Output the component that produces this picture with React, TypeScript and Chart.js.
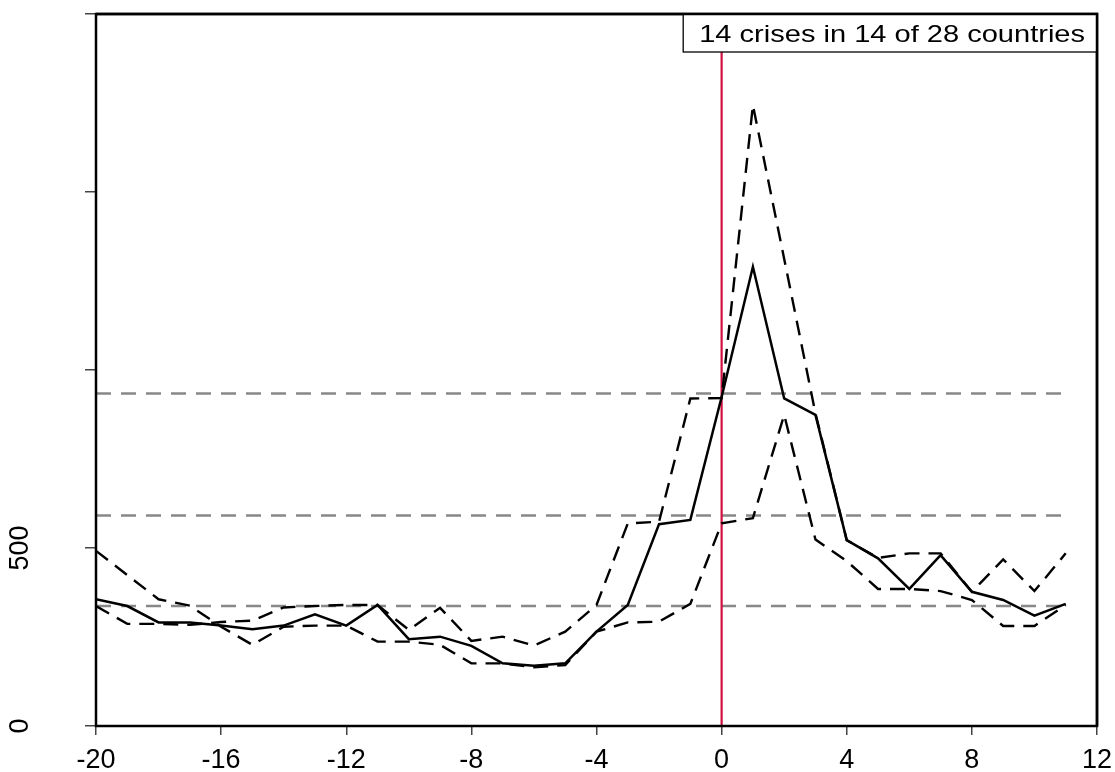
import React, { useEffect, useRef } from 'react';
import { Chart, registerables } from 'chart.js';

Chart.register(...registerables);

// ---- data ----
const years = [-20, -19, -18, -17, -16, -15, -14, -13, -12, -11, -10, -9, -8, -7, -6, -5, -4, -3, -2, -1, 0, 1, 2, 3, 4, 5, 6, 7, 8, 9, 10, 11];
const meanValues = [356, 337, 291, 291, 282, 272, 282, 314, 282, 340, 244, 251, 225, 176, 169, 176, 265, 340, 567, 579, 924, 1290, 920, 874, 522, 471, 385, 480, 377, 354, 310, 343];
const lowerBand = [492, 424, 356, 338, 279, 228, 279, 282, 282, 237, 237, 228, 176, 176, 165, 171, 265, 291, 293, 343, 569, 584, 874, 524, 463, 385, 385, 379, 354, 281, 281, 340];
const upperBand = [337, 287, 287, 284, 292, 296, 333, 337, 340, 340, 270, 332, 239, 251, 226, 265, 340, 569, 574, 920, 921, 1744, 1312, 878, 522, 472, 485, 485, 377, 468, 379, 485];
const thresholds = [934, 591, 337];
const crisisYear = 0;
const yTickValues = [0, 500, 1000, 1500, 2000];
const yTickLabels = ['0', '500', '', '', ''];
const xTickStep = 4;
const boxText = '14 crises in 14 of 28 countries';

const FONT = '"Liberation Sans", Arial, Helvetica, sans-serif';

const framePlugin = {
  id: 'frameAndBox',
  afterDraw(chart: any) {
    const { ctx, chartArea: a } = chart;
    ctx.save();
    ctx.strokeStyle = '#000';
    ctx.lineWidth = 2.5;
    ctx.strokeRect(a.left, a.top, a.right - a.left, a.bottom - a.top);
    ctx.restore();
    ctx.save();
    ctx.font = '24px ' + FONT;
    const sx = 1.21;
    const tw = ctx.measureText(boxText).width * sx;
    const bw = tw + 28;
    const bh = 38;
    const bx = a.right - bw;
    const by = a.top;
    ctx.fillStyle = '#fff';
    ctx.fillRect(bx, by, bw, bh);
    ctx.strokeStyle = '#000';
    ctx.lineWidth = 1.3;
    ctx.strokeRect(bx, by, bw, bh);
    ctx.fillStyle = '#000';
    ctx.textAlign = 'center';
    ctx.textBaseline = 'alphabetic';
    ctx.translate(bx + bw / 2 + 2, by + 28);
    ctx.scale(sx, 1);
    ctx.fillText(boxText, 0, 0);
    ctx.restore();
    ctx.save();
    ctx.strokeStyle = '#000';
    ctx.lineWidth = 2.5;
    ctx.beginPath();
    ctx.moveTo(a.left, a.top);
    ctx.lineTo(a.right, a.top);
    ctx.lineTo(a.right, a.bottom);
    ctx.stroke();
    ctx.restore();
  },
};

const zeroPad = (s: any) => {
  s.paddingTop = 0;
  s.paddingBottom = 0;
  s.paddingLeft = 0;
  s.paddingRight = 0;
};

export default function App() {
  const ref = useRef<HTMLCanvasElement | null>(null);

  useEffect(() => {
    if (!ref.current) return;
    const first = years[0];
    const last = years[years.length - 1];
    const toPts = (vals: number[]) => years.map((x, i) => ({ x, y: vals[i] }));

    const datasets: any[] = [
      ...thresholds.map((v) => ({
        data: [{ x: first, y: v }, { x: last, y: v }],
        borderColor: '#888888',
        borderWidth: 2.5,
        borderDash: [15, 10],
        pointRadius: 0,
        order: 5,
      })),
      {
        data: [{ x: crisisYear, y: yTickValues[0] }, { x: crisisYear, y: yTickValues[yTickValues.length - 1] }],
        borderColor: '#D01040',
        borderWidth: 2.2,
        pointRadius: 0,
        order: 4,
      },
      {
        data: toPts(upperBand),
        borderColor: '#000',
        borderWidth: 2.4,
        borderDash: [15, 9],
        pointRadius: 0,
        order: 3,
      },
      {
        data: toPts(lowerBand),
        borderColor: '#000',
        borderWidth: 2.4,
        borderDash: [15, 9],
        pointRadius: 0,
        order: 2,
      },
      {
        data: toPts(meanValues),
        borderColor: '#000',
        borderWidth: 2.5,
        pointRadius: 0,
        order: 1,
      },
    ];

    const chart = new Chart(ref.current, {
      type: 'line',
      data: { datasets },
      plugins: [framePlugin],
      options: {
        animation: false,
        responsive: false,
        devicePixelRatio: 1,
        layout: { padding: { top: 14, right: 18, left: 0, bottom: 0 } },
        plugins: { legend: { display: false }, tooltip: { enabled: false } },
        elements: { line: { tension: 0, fill: false } },
        scales: {
          x: {
            type: 'linear',
            min: years[0],
            max: 12,
            ticks: {
              stepSize: xTickStep,
              color: '#000',
              font: { size: 27, family: FONT },
              padding: 9,
              maxRotation: 0,
              minRotation: 0,
              autoSkip: false,
            },
            grid: { drawOnChartArea: false, drawTicks: true, tickLength: 9, color: '#444', lineWidth: 1.5 },
            border: { display: false },
            afterFit: (s: any) => { s.height = 46; zeroPad(s); },
          },
          y: {
            type: 'linear',
            min: yTickValues[0],
            max: yTickValues[yTickValues.length - 1],
            afterBuildTicks: (s: any) => { s.ticks = yTickValues.map((v) => ({ value: v })); },
            ticks: {
              color: '#000',
              font: { size: 27, family: FONT },
              minRotation: 90,
              maxRotation: 90,
              crossAlign: 'center',
              padding: 42,
              autoSkip: false,
              callback: (v: any) => {
                const i = yTickValues.indexOf(Number(v));
                return i >= 0 ? yTickLabels[i] : '';
              },
            },
            grid: { drawOnChartArea: false, drawTicks: true, tickLength: 11, color: '#444', lineWidth: 1.5 },
            border: { display: false },
            afterFit: (s: any) => { s.width = 96; zeroPad(s); },
          },
        },
      } as any,
    });
    return () => chart.destroy();
  }, []);

  return (
    <div style={{ position: 'fixed', left: 0, top: 0, width: 1115, height: 772, background: '#fff' }}>
      <canvas ref={ref} width={1115} height={772} style={{ width: 1115, height: 772, display: 'block' }} />
    </div>
  );
}
